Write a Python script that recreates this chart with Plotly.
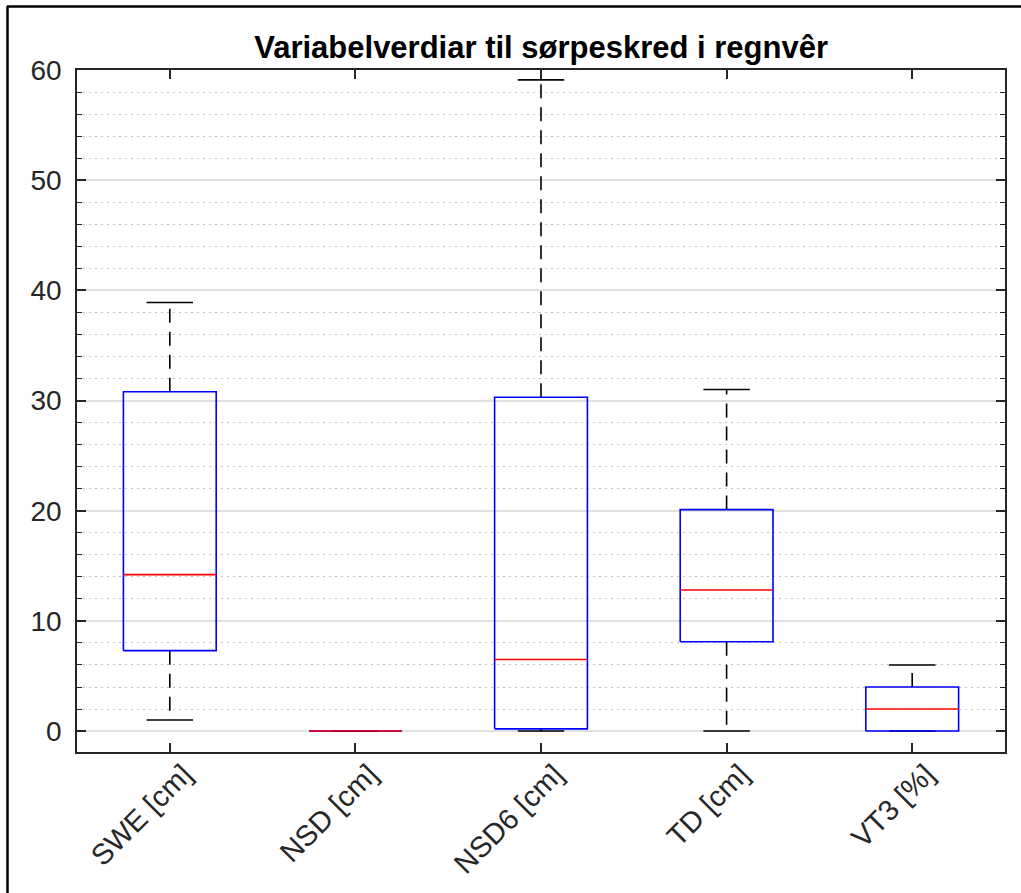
import plotly.graph_objects as go

# ---- data ----
categories = ["SWE [cm]", "NSD [cm]", "NSD6 [cm]", "TD [cm]", "VT3 [%]"]
lower_whisker = [1.0, 0.0, 0.0, 0.0, 0.0]
q1 = [7.3, 0.0, 0.2, 8.1, 0.0]
median = [14.2, 0.0, 6.5, 12.8, 2.0]
q3 = [30.8, 0.0, 30.3, 20.1, 4.0]
upper_whisker = [38.9, 0.0, 59.1, 31.0, 6.0]

title_text = "Variabelverdiar til sørpeskred i regnvêr"
y_ticks = [0, 10, 20, 30, 40, 50, 60]

BOX_HALF = 0.25
CAP_HALF = 0.125

positions = list(range(1, len(categories) + 1))

wx, wy = [], []  # dashed whiskers
cx, cy = [], []  # caps
bx, by = [], []  # boxes
mx, my = [], []  # medians
for p, lo, a, m, b, hi in zip(positions, lower_whisker, q1, median, q3, upper_whisker):
    wx += [p, p, None, p, p, None]
    wy += [b, hi, None, a, lo, None]
    cx += [p - CAP_HALF, p + CAP_HALF, None, p - CAP_HALF, p + CAP_HALF, None]
    cy += [hi, hi, None, lo, lo, None]
    bx += [p - BOX_HALF, p + BOX_HALF, p + BOX_HALF, p - BOX_HALF, p - BOX_HALF, None]
    by += [a, a, b, b, a, None]
    mx += [p - BOX_HALF, p + BOX_HALF, None]
    my += [m, m, None]

fig = go.Figure()
fig.add_trace(go.Scatter(x=wx, y=wy, mode="lines", hoverinfo="skip",
                         line=dict(color="black", width=1.6, dash="14px,9px")))
fig.add_trace(go.Scatter(x=cx, y=cy, mode="lines", hoverinfo="skip",
                         line=dict(color="black", width=1.6)))
fig.add_trace(go.Scatter(x=bx, y=by, mode="lines", hoverinfo="skip",
                         line=dict(color="#0000ff", width=1.6)))
fig.add_trace(go.Scatter(x=mx, y=my, mode="lines", hoverinfo="skip",
                         line=dict(color="#ff0000", width=1.6)))

FONT = "Liberation Sans, Arial, Helvetica, sans-serif"

fig.update_layout(
    width=1021, height=893,
    margin=dict(l=77, r=16, t=70, b=141),
    paper_bgcolor="white", plot_bgcolor="white",
    showlegend=False,
    font=dict(family=FONT, size=28, color="#262626"),
    title=dict(text="<b>" + title_text + "</b>", x=0.53, xanchor="center",
               y=1 - 47 / 893, yanchor="middle", yref="container",
               font=dict(family=FONT, size=31, color="black")),
    xaxis=dict(
        range=[0.5, 5.5], tickmode="array", tickvals=positions, ticktext=categories,
        tickangle=-45, ticks="inside", ticklen=9, tickwidth=1.5, tickcolor="#262626",
        showline=True, linecolor="#262626", linewidth=1.5, mirror="ticks",
        showgrid=False, zeroline=False, fixedrange=True,
        ticklabelshift=14, ticklabelstandoff=-8,
        tickfont=dict(family=FONT, size=29, color="#262626"),
    ),
    yaxis=dict(
        range=[-1.9, 60], tickmode="array", tickvals=y_ticks,
        ticks="inside", ticklen=9, tickwidth=1.5, tickcolor="#262626",
        showline=True, linecolor="#262626", linewidth=1.5, mirror="ticks",
        showgrid=True, gridcolor="#e0e0e0", gridwidth=1.5,
        zeroline=False, fixedrange=True, ticklabelstandoff=8,
        tickfont=dict(family=FONT, size=28, color="#262626"),
        minor=dict(dtick=2, tick0=0, ticks="inside", ticklen=5, tickwidth=1.2,
                   tickcolor="#262626", showgrid=True, gridcolor="#c4c4c4",
                   gridwidth=1, griddash="2px,4px"),
    ),
)

# outer figure frame (top and left edges visible in the reference)
px_to_x = lambda px: (px - 77) / 928
py_to_y = lambda py: (752 - py) / 682
fig.add_shape(type="line", xref="paper", yref="paper",
              x0=px_to_x(7), x1=px_to_x(1030), y0=py_to_y(6.5), y1=py_to_y(6.5),
              line=dict(color="black", width=2.5))
fig.add_shape(type="line", xref="paper", yref="paper",
              x0=px_to_x(7.5), x1=px_to_x(7.5), y0=py_to_y(6), y1=py_to_y(900),
              line=dict(color="black", width=2.5))

fig.write_html("out.html")
